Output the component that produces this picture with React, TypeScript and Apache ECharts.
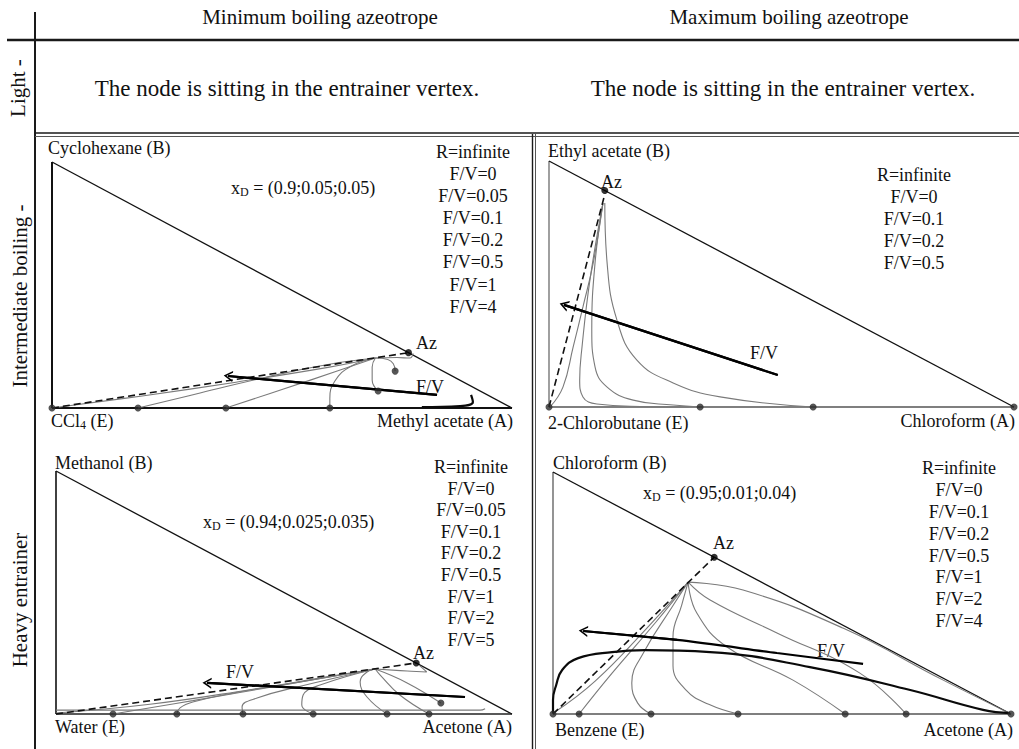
import React, { useEffect, useRef } from "react";
import * as echarts from "echarts";

const FONT = '"Liberation Serif", "Times New Roman", Times, serif';

// ---------- table texts ----------
const columnHeaders = ["Minimum boiling azeotrope", "Maximum boiling azeotrope"];
const rowHeaders = ["Light -", "Intermediate boiling -", "Heavy entrainer"];
const lightRowText = "The node is sitting in the entrainer vertex.";

// ---------- panel 1 : minimum boiling, intermediate boiling entrainer ----------
const p1Vertices = ["Cyclohexane (B)", "CCl|4| (E)", "Methyl acetate (A)"];
const p1XD = "(0.9;0.05;0.05)";
const p1Legend = ["R=infinite", "F/V=0", "F/V=0.05", "F/V=0.1", "F/V=0.2", "F/V=0.5", "F/V=1", "F/V=4"];
const p1Az = [0.775, 0.225];
const p1Dots = [[0, 0], [0.187, 0], [0.378, 0], [0.604, 0], [0.709, 0.069], [0.746, 0.15]];
const p1Dashed = [[0, 0], [0.775, 0.225]];
const p1Curves = [
  [[0, 0], [0.2, 0.05], [0.4, 0.105], [0.6, 0.165], [0.703, 0.203]],
  [[0.187, 0], [0.322, 0.061], [0.467, 0.126], [0.6, 0.177], [0.703, 0.203]],
  [[0.378, 0], [0.5, 0.075], [0.62, 0.15], [0.703, 0.203]],
  [[0.604, 0], [0.604, 0.04], [0.615, 0.11], [0.65, 0.17], [0.703, 0.203]],
  [[0.703, 0.203], [0.696, 0.167], [0.696, 0.114], [0.709, 0.069]],
  [[0.703, 0.203], [0.73, 0.197], [0.742, 0.18], [0.746, 0.15]],
  [[0.703, 0.203], [0.75, 0.205], [0.778, 0.203], [0.785, 0.222]],
];
const p1Bold = [[0.804, 0.004], [0.887, 0.008], [0.915, 0.024], [0.911, 0.053]];
const p1Arrow = [[0.837, 0.053], [0.383, 0.13]];

// ---------- panel 2 : maximum boiling, intermediate boiling entrainer ----------
const p2Vertices = ["Ethyl acetate (B)", "2-Chlorobutane (E)", "Chloroform (A)"];
const p2Legend = ["R=infinite", "F/V=0", "F/V=0.1", "F/V=0.2", "F/V=0.5"];
const p2Az = [0.12, 0.88];
const p2Dots = [[0, 0], [0.325, 0], [0.568, 0], [1, 0]];
const p2Dashed = [[0, 0], [0.118, 0.85]];
const p2Curves = [
  [[0.116, 0.829], [0.095, 0.585], [0.073, 0.407], [0.052, 0.244], [0.03, 0.081], [0.002, 0]],
  [[0.116, 0.829], [0.088, 0.516], [0.071, 0.244], [0.066, 0.11], [0.073, 0.041], [0.103, 0.012], [0.196, 0.002], [0.3, 0]],
  [[0.116, 0.829], [0.099, 0.585], [0.092, 0.313], [0.099, 0.163], [0.125, 0.081], [0.181, 0.028], [0.267, 0.008], [0.325, 0]],
  [[0.12, 0.829], [0.125, 0.585], [0.146, 0.354], [0.189, 0.191], [0.267, 0.098], [0.368, 0.041], [0.568, 0]],
];
const p2Arrow = [[0.492, 0.13], [0.032, 0.415]];

// ---------- panel 3 : minimum boiling, heavy entrainer ----------
const p3Vertices = ["Methanol (B)", "Water (E)", "Acetone (A)"];
const p3XD = "(0.94;0.025;0.035)";
const p3Legend = ["R=infinite", "F/V=0", "F/V=0.05", "F/V=0.1", "F/V=0.2", "F/V=0.5", "F/V=1", "F/V=2", "F/V=5"];
const p3Az = [0.79, 0.21];
const p3Dots = [[0.125, 0], [0.265, 0], [0.41, 0], [0.564, 0], [0.726, 0], [0.818, 0], [0.844, 0.045]];
const p3Dashed = [[0, 0], [0.79, 0.21]];
const p3Curves = [
  [[0, 0.004], [0.206, 0.04], [0.425, 0.1], [0.6, 0.155], [0.7, 0.185]],
  [[0.125, 0], [0.3, 0.055], [0.5, 0.12], [0.7, 0.185]],
  [[0.265, 0], [0.272, 0.025], [0.3, 0.049], [0.388, 0.086], [0.535, 0.132], [0.7, 0.185]],
  [[0.41, 0], [0.408, 0.029], [0.441, 0.066], [0.529, 0.111], [0.7, 0.185]],
  [[0.564, 0], [0.539, 0.037], [0.542, 0.078], [0.579, 0.119], [0.7, 0.185]],
  [[0.726, 0], [0.682, 0.07], [0.667, 0.132], [0.682, 0.173], [0.7, 0.185]],
  [[0.818, 0], [0.754, 0.078], [0.711, 0.16], [0.7, 0.185]],
  [[0.7, 0.185], [0.77, 0.128], [0.844, 0.045]],
  [[0.7, 0.185], [0.77, 0.177], [0.813, 0.173], [0.798, 0.198]],
  [[0, 0.016], [0.5, 0.016], [0.93, 0.016], [0.941, 0.022]],
];
const p3Arrow = [[0.897, 0.07], [0.331, 0.128]];

// ---------- panel 4 : maximum boiling, heavy entrainer ----------
const p4Vertices = ["Chloroform (B)", "Benzene (E)", "Acetone (A)"];
const p4XD = "(0.95;0.01;0.04)";
const p4Legend = ["R=infinite", "F/V=0", "F/V=0.1", "F/V=0.2", "F/V=0.5", "F/V=1", "F/V=2", "F/V=4"];
const p4Az = [0.352, 0.648];
const p4Dots = [[0, 0], [0.057, 0], [0.214, 0], [0.404, 0], [0.638, 0], [0.771, 0], [1, 0]];
const p4Dashed = [[0, 0], [0.352, 0.648]];
const p4Curves = [
  [[0.295, 0.545], [0.201, 0.347], [0.092, 0.136], [0.004, 0.008]],
  [[0.295, 0.545], [0.223, 0.376], [0.129, 0.169], [0.057, 0]],
  [[0.295, 0.545], [0.26, 0.442], [0.201, 0.264], [0.172, 0.128], [0.185, 0.045], [0.214, 0]],
  [[0.295, 0.545], [0.281, 0.45], [0.262, 0.32], [0.262, 0.2], [0.29, 0.1], [0.34, 0.04], [0.404, 0]],
  [[0.295, 0.545], [0.314, 0.417], [0.38, 0.277], [0.524, 0.14], [0.638, 0]],
  [[0.295, 0.545], [0.343, 0.471], [0.489, 0.335], [0.67, 0.169], [0.771, 0]],
  [[0.295, 0.545], [0.415, 0.512], [0.633, 0.355], [0.852, 0.14], [1, 0]],
];
const p4Bold = [
  [0, 0.004], [0, 0.058], [0.007, 0.12], [0.02, 0.182], [0.055, 0.231], [0.129, 0.256],
  [0.201, 0.264], [0.343, 0.256], [0.561, 0.194], [0.78, 0.099], [0.939, 0.017], [0.998, 0.004],
];
const p4Arrow = [[0.677, 0.207], [0.489, 0.252], [0.271, 0.306], [0.066, 0.343]];

// ---------- layout (styles / positions) ----------
const panels = [
  {
    grid: { left: 52, top: 162, width: 460, height: 246 },
    vertices: p1Vertices, xd: p1XD, legend: p1Legend, az: p1Az, dots: p1Dots, dashed: p1Dashed,
    curves: p1Curves, bold: p1Bold, arrow: p1Arrow,
    leftEdge: { color: "#111", width: 2 }, bottomEdge: { color: "#111", width: 2.2 },
    lbl: { B: [48, 148], E: [51, 421], A: [513, 421], az: [416, 343], fv: [416, 387], xd: [231, 188], leg: [473, 152, 22.1] },
  },
  {
    grid: { left: 549, top: 161, width: 465, height: 246 },
    vertices: p2Vertices, xd: null, legend: p2Legend, az: p2Az, dots: p2Dots, dashed: p2Dashed,
    curves: p2Curves, bold: null, arrow: p2Arrow,
    leftEdge: { color: "#777", width: 1.4 }, bottomEdge: { color: "#555", width: 1.6 },
    lbl: { B: [548, 151], E: [548, 423], A: [1015, 421], az: [601, 182], fv: [750, 353], xd: null, leg: [914, 175, 22] },
  },
  {
    grid: { left: 56, top: 471, width: 456, height: 243 },
    vertices: p3Vertices, xd: p3XD, legend: p3Legend, az: p3Az, dots: p3Dots, dashed: p3Dashed,
    curves: p3Curves, bold: null, arrow: p3Arrow,
    leftEdge: { color: "#111", width: 1.6 }, bottomEdge: { color: "#222", width: 1.6 },
    lbl: { B: [55, 463], E: [55, 727], A: [512, 727], az: [413, 653], fv: [226, 672], xd: [203, 522], leg: [471, 467, 21.6] },
  },
  {
    grid: { left: 553, top: 472, width: 458, height: 242 },
    vertices: p4Vertices, xd: p4XD, legend: p4Legend, az: p4Az, dots: p4Dots, dashed: p4Dashed,
    curves: p4Curves, bold: p4Bold, arrow: p4Arrow,
    leftEdge: { color: "#666", width: 1.4 }, bottomEdge: { color: "#555", width: 1.6 },
    lbl: { B: [553, 463], E: [555, 730], A: [1013, 730], az: [713, 543], fv: [817, 651], xd: [643, 493], leg: [959, 468, 21.9] },
  },
];

// open chevron arrow head (tip at top, as ECharts expects for line end symbols)
const CHEVRON = "path://M5,0 L10,10 L8.4,10 L5,3.2 L1.6,10 L0,10 Z";

const richText = (s: string) => {
  // "CCl|4| (E)" -> subscript for the part between bars
  const parts = s.split("|");
  return parts.map((p, i) => (i % 2 === 1 ? `{s|${p}}` : p ? `{n|${p}}` : "")).join("");
};

const richStyles = (size: number) => ({
  n: { fontSize: size, fontFamily: FONT, fill: "#111", color: "#111" },
  s: { fontSize: Math.round(size * 0.68), fontFamily: FONT, fill: "#111", color: "#111", padding: [8, 0, 0, 0] },
});

function txt(x: number, y: number, text: string, size: number, align: string, extra: any = {}) {
  return {
    type: "text",
    x,
    y,
    silent: true,
    ...extra,
    style: {
      text,
      fontSize: size,
      fontFamily: FONT,
      fill: "#111",
      align,
      verticalAlign: "middle",
      ...(extra.style || {}),
    },
  };
}

function buildOption() {
  const grid: any[] = [];
  const xAxis: any[] = [];
  const yAxis: any[] = [];
  const series: any[] = [];
  const graphic: any[] = [];

  const hiddenAxis = (gi: number) => ({
    type: "value",
    gridIndex: gi,
    min: 0,
    max: 1,
    show: false,
  });

  panels.forEach((p, gi) => {
    grid.push({ ...p.grid, containLabel: false });
    xAxis.push(hiddenAxis(gi));
    yAxis.push(hiddenAxis(gi));
    const base = { xAxisIndex: gi, yAxisIndex: gi, clip: false, silent: true, animation: false };
    const line = (data: number[][], lineStyle: any, extra: any = {}) => ({
      type: "line",
      ...base,
      data,
      symbol: "none",
      showSymbol: false,
      lineStyle,
      z: 2,
      ...extra,
    });

    // triangle edges
    series.push(line([[0, 1], [0, 0]], { color: p.leftEdge.color, width: p.leftEdge.width }));
    series.push(line([[0, 0], [1, 0]], { color: p.bottomEdge.color, width: p.bottomEdge.width }));
    series.push(line([[0, 1], [1, 0]], { color: "#111", width: 1.3 }));

    // residue / profile curves
    p.curves.forEach((c) => {
      series.push(line(c, { color: "#7a7a7a", width: 1.1 }, { smooth: 0.45 }));
    });
    if (p.bold) {
      series.push(line(p.bold, { color: "#0a0a0a", width: 2.2 }, { smooth: 0.45, z: 3 }));
    }
    // dashed line to the azeotrope
    series.push(line(p.dashed, { color: "#111", width: 1.6, type: [7, 4] }, { z: 3 }));

    // F/V arrow
    const a = p.arrow;
    series.push(
      line(a, { color: "#000", width: 2.2 }, {
        smooth: 0.3,
        z: 4,
        markLine: {
          silent: true,
          animation: false,
          symbol: ["none", CHEVRON],
          symbolSize: [11, 9],
          lineStyle: { color: "#000", width: 2.2, type: "solid" },
          itemStyle: { color: "#000" },
          label: { show: false },
          emphasis: { disabled: true },
          data: [[{ coord: a[a.length - 2] }, { coord: a[a.length - 1] }]],
        },
      })
    );

    // dots
    series.push({
      type: "scatter",
      ...base,
      data: p.dots,
      symbolSize: 7,
      itemStyle: { color: "#2b2b2b" },
      z: 5,
    });
    series.push({
      type: "scatter",
      ...base,
      data: [p.az],
      symbolSize: 7,
      itemStyle: { color: "#000" },
      z: 5,
    });

    // texts
    const L = p.lbl;
    graphic.push(txt(L.B[0], L.B[1], p.vertices[0], 18, "left"));
    const eText = p.vertices[1];
    if (eText.indexOf("|") >= 0) {
      graphic.push(txt(L.E[0], L.E[1], richText(eText), 18, "left", { style: { rich: richStyles(18) } }));
    } else {
      graphic.push(txt(L.E[0], L.E[1], eText, 18, "left"));
    }
    graphic.push(txt(L.A[0], L.A[1], p.vertices[2], 18, "right"));
    graphic.push(txt(L.az[0], L.az[1], "Az", 18, "left"));
    graphic.push(txt(L.fv[0], L.fv[1], "F/V", 18, "left"));
    if (p.xd && L.xd) {
      graphic.push(
        txt(L.xd[0], L.xd[1], richText("x|D| = " + p.xd), 18, "left", { style: { rich: richStyles(18) } })
      );
    }
    const lh = L.leg[2];
    graphic.push({
      type: "text",
      x: L.leg[0],
      y: L.leg[1] - lh / 2,
      silent: true,
      style: {
        text: p.legend.join("\n"),
        fontSize: 18,
        fontFamily: FONT,
        fill: "#111",
        align: "center",
        verticalAlign: "top",
        lineHeight: lh,
      },
    });
  });

  // table frame
  const ln = (x1: number, y1: number, x2: number, y2: number, w: number, c = "#1a1a1a") => ({
    type: "line",
    silent: true,
    shape: { x1, y1, x2, y2 },
    style: { stroke: c, lineWidth: w },
  });
  graphic.push(ln(35, 12, 35, 749, 2));
  graphic.push(ln(7, 40, 1019, 40, 2.6));
  graphic.push(ln(35, 133, 1019, 133, 1.6));
  graphic.push(ln(35, 136.5, 1019, 136.5, 1, "#555"));
  graphic.push(ln(532.5, 134, 532.5, 749, 1.4));
  graphic.push(ln(535.5, 134, 535.5, 749, 1, "#555"));

  // headers
  graphic.push(txt(320, 17, columnHeaders[0], 21, "center"));
  graphic.push(txt(789, 17, columnHeaders[1], 21, "center"));
  graphic.push(txt(287, 88, lightRowText, 23, "center"));
  graphic.push(txt(783, 88, lightRowText, 23, "center"));
  graphic.push(txt(18, 88, rowHeaders[0], 21, "center", { rotation: Math.PI / 2 }));
  graphic.push(txt(20, 296, rowHeaders[1], 21, "center", { rotation: Math.PI / 2 }));
  graphic.push(txt(20, 600, rowHeaders[2], 21, "center", { rotation: Math.PI / 2 }));

  return {
    animation: false,
    backgroundColor: "#ffffff",
    grid,
    xAxis,
    yAxis,
    series,
    graphic: { elements: graphic },
  };
}

export default function App() {
  const ref = useRef<HTMLDivElement>(null);
  useEffect(() => {
    if (!ref.current) return;
    const chart = echarts.init(ref.current, undefined, { renderer: "svg" });
    chart.setOption(buildOption() as any);
    return () => chart.dispose();
  }, []);
  return (
    <div
      ref={ref}
      style={{ position: "absolute", left: 0, top: 0, width: 1019, height: 749, background: "#fff" }}
    />
  );
}
